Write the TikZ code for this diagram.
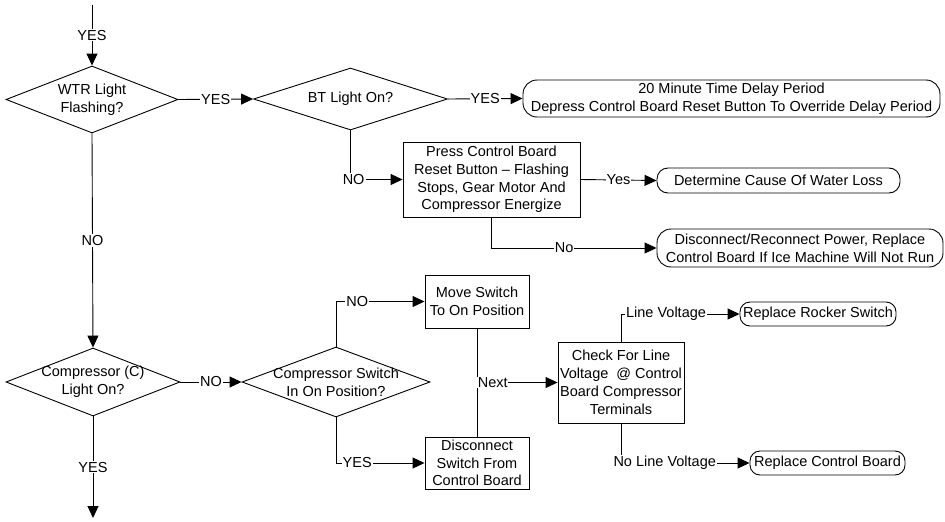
\documentclass[tikz,border=0pt]{standalone}
\usepackage{fontspec}
\setmainfont{Liberation Sans}
\usetikzlibrary{shapes.geometric,arrows.meta}
\begin{document}
\begin{tikzpicture}[x=1pt,y=-1pt,
  every node/.style={font=\fontsize{14.5}{17.8}\selectfont},
  ln/.style={line width=0.9pt},
  arr/.style={line width=0.9pt,-{Triangle[length=12pt,width=11pt]}},
  dia/.style={draw,line width=0.9pt,diamond,inner sep=-30pt,align=center},
  boxx/.style={draw,line width=0.9pt,rectangle,inner sep=0pt,align=center},
  rbox/.style={draw,line width=0.9pt,rectangle,rounded corners=11pt,inner sep=0pt,align=center},
  lab/.style={fill=white,inner sep=1pt}]
\useasboundingbox (0,0) rectangle (945,522);
% decisions
\node[dia,minimum width=172pt,minimum height=67pt] (wtr) at (92,99.5) {WTR Light\\Flashing?};
\node[dia,minimum width=194pt,minimum height=62pt] (bt) at (350.5,99) {BT Light On?};
\node[dia,minimum width=174pt,minimum height=68pt] (comp) at (93,382) {Compressor (C)\\Light On?};
\node[dia,minimum width=188pt,minimum height=70pt] (sw) at (336,382) {Compressor Switch\\In On Position?};
% process boxes
\node[boxx,minimum width=177pt,minimum height=75pt] (press) at (491.5,179.5) {Press Control Board\\Reset Button -- Flashing\\Stops, Gear Motor And\\Compressor Energize};
\node[boxx,minimum width=104pt,minimum height=53pt] (move) at (477,301.5) {Move Switch\\To On Position};
\node[boxx,minimum width=104pt,minimum height=52pt] (disc) at (477,463) {Disconnect\\Switch From\\Control Board};
\node[boxx,minimum width=126pt,minimum height=81pt] (check) at (621,382.5) {Check For Line\\Voltage\ \ @ Control\\Board Compressor\\Terminals};
% terminal boxes
\node[rbox,rounded corners=14pt,minimum width=417pt,minimum height=37pt] (r1) at (731.5,98.5) {20 Minute Time Delay Period\\Depress Control Board Reset Button To Override Delay Period};
\node[rbox,minimum width=243pt,minimum height=25pt] (r2) at (778.5,180.5) {Determine Cause Of Water Loss};
\node[rbox,rounded corners=14pt,minimum width=286pt,minimum height=38pt] (r3) at (800,248) {Disconnect/Reconnect Power, Replace\\Control Board If Ice Machine Will Not Run};
\node[rbox,rounded corners=10pt,minimum width=156pt,minimum height=24pt] (r4) at (818,314) {Replace Rocker Switch};
\node[rbox,rounded corners=10pt,minimum width=155pt,minimum height=24pt] (r5) at (827.5,463) {Replace Control Board};
% free ends
\coordinate (top) at (92,5);
\coordinate (bot) at (93,518);
\coordinate (nx) at (477,382.5);
% connectors
\draw[arr] (top) -- node[lab]{YES} (wtr.north);
\draw[arr] (wtr.east) -- node[lab]{YES} (bt.west);
\draw[arr] (bt.east) -- node[lab]{YES} (r1.west);
\draw[arr] (bt.south) |- node[lab,pos=0.53]{NO} (press.west);
\draw[arr] (press.east) -- node[lab]{Yes} (r2.west);
\draw[arr] (press.south) |- node[lab,pos=0.72]{No} (r3.west);
\draw[arr] (wtr.south) -- node[lab]{NO} (comp.north);
\draw[arr] (comp.east) -- node[lab]{NO} (sw.west);
\draw[arr] (sw.north) |- node[lab,pos=0.62]{NO} (move.west);
\draw[arr] (sw.south) |- node[lab,pos=0.62]{YES} (disc.west);
\draw[ln] (move.south) -- (disc.north);
\draw[arr] (nx) -- node[lab,pos=0,anchor=west,inner sep=0.5pt]{Next} (check.west);
\draw[arr] (check.north) |- node[lab,pos=0.69]{Line Voltage} (r4.west);
\draw[arr] (check.south) |- node[lab,pos=0.67]{No Line Voltage} (r5.west);
\draw[arr] (comp.south) -- node[lab]{YES} (bot);
\end{tikzpicture}
\end{document}
